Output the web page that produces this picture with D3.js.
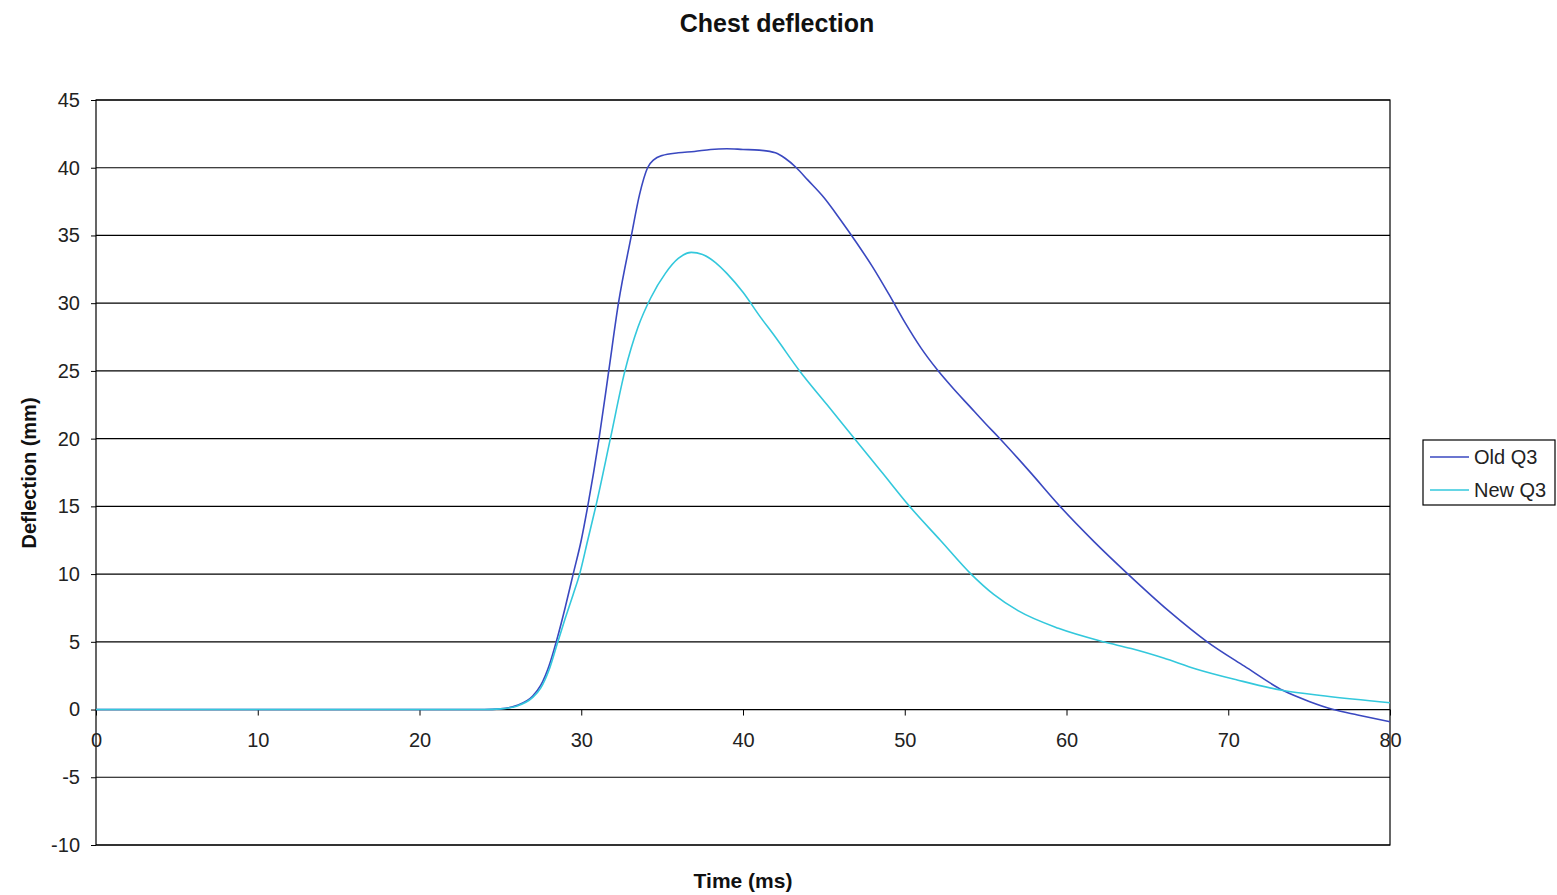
<!DOCTYPE html>
<html><head><meta charset="utf-8">
<script src="https://cdn.jsdelivr.net/npm/d3@7"></script>
<style>body{margin:0;background:#fff;} svg{display:block;font-family:"Liberation Sans",Arial,sans-serif;}</style>
</head><body>
<svg id="c" width="1557" height="895"></svg>
<script>
const title = "Chest deflection";
const xLabel = "Time (ms)";
const yLabel = "Deflection (mm)";
const xTicks = [0,10,20,30,40,50,60,70,80];
const yTicks = [-10,-5,0,5,10,15,20,25,30,35,40,45];
const seriesNames = ["Old Q3","New Q3"];
const oldTime = [0,5,10,15,20,24,25,26,27,27.5,28,28.5,29,29.5,30,30.4,31.1,31.7,32.3,33.1,33.6,34.1,34.5,35,36,37,38,39,40,41,42,42.6,43.3,44,45,46,47,48,49,50,51,52,53,54,55,55.8,57.7,59.6,61.7,63.8,66.3,68.7,71,73.4,75,76.5,78,80];
const oldVal  = [0,0,0,0,0,0,0.05,0.3,1,1.8,3.2,5.2,7.5,10,12.5,15,20,25,30,35,38,40,40.6,40.9,41.1,41.2,41.35,41.4,41.35,41.3,41.1,40.7,40,39.1,37.8,36.2,34.5,32.7,30.7,28.6,26.7,25.1,23.7,22.4,21.1,20.1,17.6,15,12.4,10,7.3,5,3.2,1.4,0.6,0,-0.4,-0.9];
const newTime = [0,5,10,15,20,24,25,26,27,27.5,28,28.5,29,29.5,29.9,30.4,30.9,31.8,32.7,33.5,34.3,35.2,36,36.8,37.5,38.3,39,40,41,42,43.5,45.2,46.9,48.6,50.3,52.2,54.1,55.5,57,59.5,62.3,64,66,68,70.5,73.4,76,80];
const newVal  = [0,0,0,0,0,0,0.05,0.25,0.9,1.6,2.9,4.8,6.7,8.5,10,12.5,15,20,25,28.2,30.4,32.2,33.3,33.75,33.6,33.0,32.2,30.8,29.1,27.5,25,22.5,20,17.5,15,12.5,10,8.5,7.3,6,5,4.5,3.8,3.0,2.2,1.4,1,0.5];
const colors = ["#3a48c0","#33c8dc"];

const svg = d3.select("#c");
const L=96, R=1390, T=100, B=845;
const x = d3.scaleLinear().domain([0,80]).range([L,R]);
const y = d3.scaleLinear().domain([-10,45]).range([B,T]);
const FONT = "'Liberation Sans',Arial,sans-serif";

// gridlines
svg.append("g").selectAll("line").data(yTicks).join("line")
  .attr("x1",L).attr("x2",R).attr("y1",d=>y(d)).attr("y2",d=>y(d))
  .attr("stroke","#000").attr("stroke-width",1.2);
// plot border
svg.append("rect").attr("x",L).attr("y",T).attr("width",R-L).attr("height",B-T)
  .attr("fill","none").attr("stroke","#000").attr("stroke-width",1.2);

// y axis
const ya = svg.append("g").attr("transform",`translate(${L},0)`)
  .call(d3.axisLeft(y).tickValues(yTicks).tickSize(5).tickPadding(11).tickFormat(d=>String(d)));
ya.select(".domain").remove();
ya.selectAll("text").attr("font-size",20).attr("font-family",FONT).attr("fill","#222");
ya.selectAll("line").attr("stroke","#000");

// x axis at zero
const xa = svg.append("g").attr("transform",`translate(0,${y(0)})`)
  .call(d3.axisBottom(x).tickValues(xTicks).tickSize(6).tickPadding(17).tickFormat(d=>String(d)));
xa.select(".domain").remove();
xa.selectAll("text").attr("font-size",20).attr("font-family",FONT).attr("fill","#222");
xa.selectAll("line").attr("stroke","#000");

// lines
const mk = (t,v)=>t.map((d,i)=>[d,v[i]]);
const line = d3.line().x(d=>x(d[0])).y(d=>y(d[1])).curve(d3.curveMonotoneX);
[mk(oldTime,oldVal), mk(newTime,newVal)].forEach((data,i)=>{
  svg.append("path").datum(data).attr("d",line).attr("fill","none")
    .attr("stroke",colors[i]).attr("stroke-width",1.6);
});

// title & labels
svg.append("text").attr("x",777).attr("y",32).attr("text-anchor","middle")
  .attr("font-size",25).attr("font-weight","bold").attr("fill","#111").text(title);
svg.append("text").attr("x",743).attr("y",888).attr("text-anchor","middle")
  .attr("font-size",21).attr("font-weight","bold").attr("fill","#111").text(xLabel);
svg.append("text").attr("transform","translate(36,473) rotate(-90)").attr("text-anchor","middle")
  .attr("font-size",20).attr("font-weight","bold").attr("fill","#111").text(yLabel);

// legend
const lg = svg.append("g");
lg.append("rect").attr("x",1423).attr("y",440).attr("width",132).attr("height",65)
  .attr("fill","#fff").attr("stroke","#000").attr("stroke-width",1.2);
seriesNames.forEach((n,i)=>{
  const yy = 457 + i*33;
  lg.append("line").attr("x1",1430).attr("x2",1469).attr("y1",yy).attr("y2",yy)
    .attr("stroke",colors[i]).attr("stroke-width",1.6);
  lg.append("text").attr("x",1474).attr("y",yy+7).attr("font-size",20).attr("fill","#222").text(n);
});
</script>
</body></html>
